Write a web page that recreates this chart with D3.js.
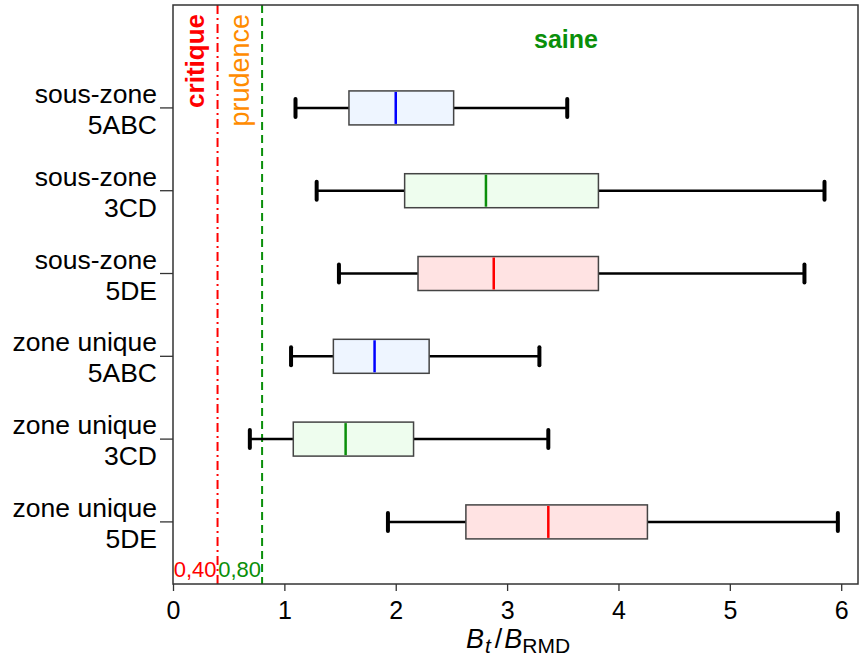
<!DOCTYPE html>
<meta charset="utf-8">
<title>Bt/BRMD par zone</title>
<style>
body { margin: 0; background: #fff; }
svg { font-family: "Liberation Sans", Arial, sans-serif; }
</style>
<svg width="860" height="661"></svg>
<script src="https://d3js.org/d3.v7.min.js"></script>
<script>

// category labels (two lines each)
var line1 = ["sous-zone", "sous-zone", "sous-zone", "zone unique", "zone unique", "zone unique"];
var line2 = ["5ABC", "3CD", "5DE", "5ABC", "3CD", "5DE"];
// box stats
var lowW  = [1.10, 1.29, 1.49, 1.06, 0.69, 1.93];
var q1    = [1.58, 2.08, 2.20, 1.44, 1.08, 2.63];
var med   = [2.00, 2.81, 2.88, 1.81, 1.55, 3.37];
var q3    = [2.52, 3.82, 3.82, 2.30, 2.16, 4.26];
var highW = [3.54, 5.85, 5.67, 3.29, 3.37, 5.97];
var region = ["5ABC", "3CD", "5DE", "5ABC", "3CD", "5DE"];
var xTicks = [0, 1, 2, 3, 4, 5, 6];
var refLimit = [0.40, 0.80];
var refLabel = ["0,40", "0,80"];

var fillBy = {"5ABC": "#eef5ff", "3CD": "#eefdee", "5DE": "#ffe3e3"};
var medBy  = {"5ABC": "#0000ff", "3CD": "#0a8f0a", "5DE": "#ff0000"};

var svg = d3.select("svg");
var pLeft = 173, pRight = 858, pTop = 5, pBottom = 584;

var x = d3.scaleLinear().domain([0, 6]).range([173, 841.2]);
var y = d3.scaleLinear().domain([-1.243, 5.75]).range([pTop, pBottom]);

var rows = d3.range(line1.length);

// reference lines
svg.append("line")
    .attr("x1", x(refLimit[0])).attr("x2", x(refLimit[0]))
    .attr("y1", pTop).attr("y2", pBottom)
    .attr("stroke", "#ff0000").attr("stroke-width", 2)
    .attr("stroke-dasharray", "9,4,2,4");
svg.append("line")
    .attr("x1", x(refLimit[1])).attr("x2", x(refLimit[1]))
    .attr("y1", pTop).attr("y2", pBottom)
    .attr("stroke", "#0a8f0a").attr("stroke-width", 2)
    .attr("stroke-dasharray", "8,5");

// zone names
svg.append("text")
    .attr("transform", "translate(" + (x(0.2) + 9) + ",14) rotate(-90)")
    .attr("text-anchor", "end")
    .attr("fill", "#ff0000").attr("font-weight", "bold").attr("font-size", 26)
    .text("critique");
svg.append("text")
    .attr("transform", "translate(" + (x(0.6) + 9) + ",14) rotate(-90)")
    .attr("text-anchor", "end")
    .attr("fill", "#ff8c00").attr("font-size", 27)
    .text("prudence");
svg.append("text")
    .attr("x", 566).attr("y", 48)
    .attr("text-anchor", "middle")
    .attr("fill", "#0a8f0a").attr("font-weight", "bold").attr("font-size", 25)
    .text("saine");

// reference values
svg.append("clipPath").attr("id", "plotclip")
  .append("rect").attr("x", pLeft).attr("y", pTop)
    .attr("width", pRight - pLeft).attr("height", pBottom - pTop);
svg.append("g").attr("clip-path", "url(#plotclip)")
  .selectAll("text").data(refLimit).enter().append("text")
    .attr("x", function(d) { return x(d) - 1; })
    .attr("y", 577)
    .attr("text-anchor", "end")
    .attr("font-size", 22)
    .attr("fill", function(d, i) { return i == 0 ? "#ff0000" : "#0a8f0a"; })
    .text(function(d, i) { return refLabel[i]; });

// boxes
var g = svg.append("g");
var bh = 34;
rows.forEach(function(i) {
  var cy = y(i);
  g.append("line")
      .attr("x1", x(lowW[i])).attr("x2", x(q1[i]))
      .attr("y1", cy).attr("y2", cy)
      .attr("stroke", "#000").attr("stroke-width", 2.5);
  g.append("line")
      .attr("x1", x(q3[i])).attr("x2", x(highW[i]))
      .attr("y1", cy).attr("y2", cy)
      .attr("stroke", "#000").attr("stroke-width", 2.5);
  [lowW[i], highW[i]].forEach(function(v) {
    g.append("line")
        .attr("x1", x(v)).attr("x2", x(v))
        .attr("y1", cy - 9).attr("y2", cy + 9)
        .attr("stroke", "#000").attr("stroke-width", 4)
        .attr("stroke-linecap", "round");
  });
  g.append("rect")
      .attr("x", x(q1[i])).attr("y", cy - bh / 2)
      .attr("width", x(q3[i]) - x(q1[i])).attr("height", bh)
      .attr("fill", fillBy[region[i]])
      .attr("stroke", "#444").attr("stroke-width", 1.5);
  g.append("line")
      .attr("x1", x(med[i])).attr("x2", x(med[i]))
      .attr("y1", cy - bh / 2 + 1).attr("y2", cy + bh / 2 - 1)
      .attr("stroke", medBy[region[i]]).attr("stroke-width", 2.5);
});

// frame
svg.append("rect")
    .attr("x", pLeft).attr("y", pTop)
    .attr("width", pRight - pLeft).attr("height", pBottom - pTop)
    .attr("fill", "none").attr("stroke", "#333").attr("stroke-width", 1.5);

// x axis
var xa = svg.append("g")
    .attr("transform", "translate(0," + pBottom + ")")
    .call(d3.axisBottom(x).tickValues(xTicks).tickSize(7).tickPadding(10)
      .tickFormat(d3.format("d")));
xa.attr("font-size", 25).attr("font-family", "Liberation Sans, Arial, sans-serif");
xa.select(".domain").remove();
xa.selectAll(".tick line").attr("stroke", "#333").attr("stroke-width", 1.3);
xa.selectAll(".tick text").attr("fill", "#000");

// y ticks and labels
var ya = svg.append("g");
rows.forEach(function(i) {
  ya.append("line")
      .attr("x1", pLeft - 13).attr("x2", pLeft)
      .attr("y1", y(i)).attr("y2", y(i))
      .attr("stroke", "#333").attr("stroke-width", 1.3);
  var t = ya.append("text")
      .attr("text-anchor", "end")
      .attr("font-size", 26.5)
      .attr("fill", "#000");
  t.append("tspan").attr("x", 157).attr("y", y(i) - 5).text(line1[i]);
  t.append("tspan").attr("x", 157).attr("y", y(i) + 26).text(line2[i]);
});

// x axis title
var title = svg.append("text")
    .attr("x", 518).attr("y", 648)
    .attr("text-anchor", "middle")
    .attr("font-size", 27).attr("fill", "#000");
title.append("tspan").attr("font-style", "italic").text("B");
title.append("tspan").attr("font-style", "italic").attr("font-size", 21).attr("dy", 5).attr("dx", 1).text("t");
title.append("tspan").attr("dy", -5).attr("dx", 4).text("/");
title.append("tspan").attr("font-style", "italic").attr("dx", 2).text("B");
title.append("tspan").attr("font-size", 21).attr("dy", 5).text("RMD");

</script>
